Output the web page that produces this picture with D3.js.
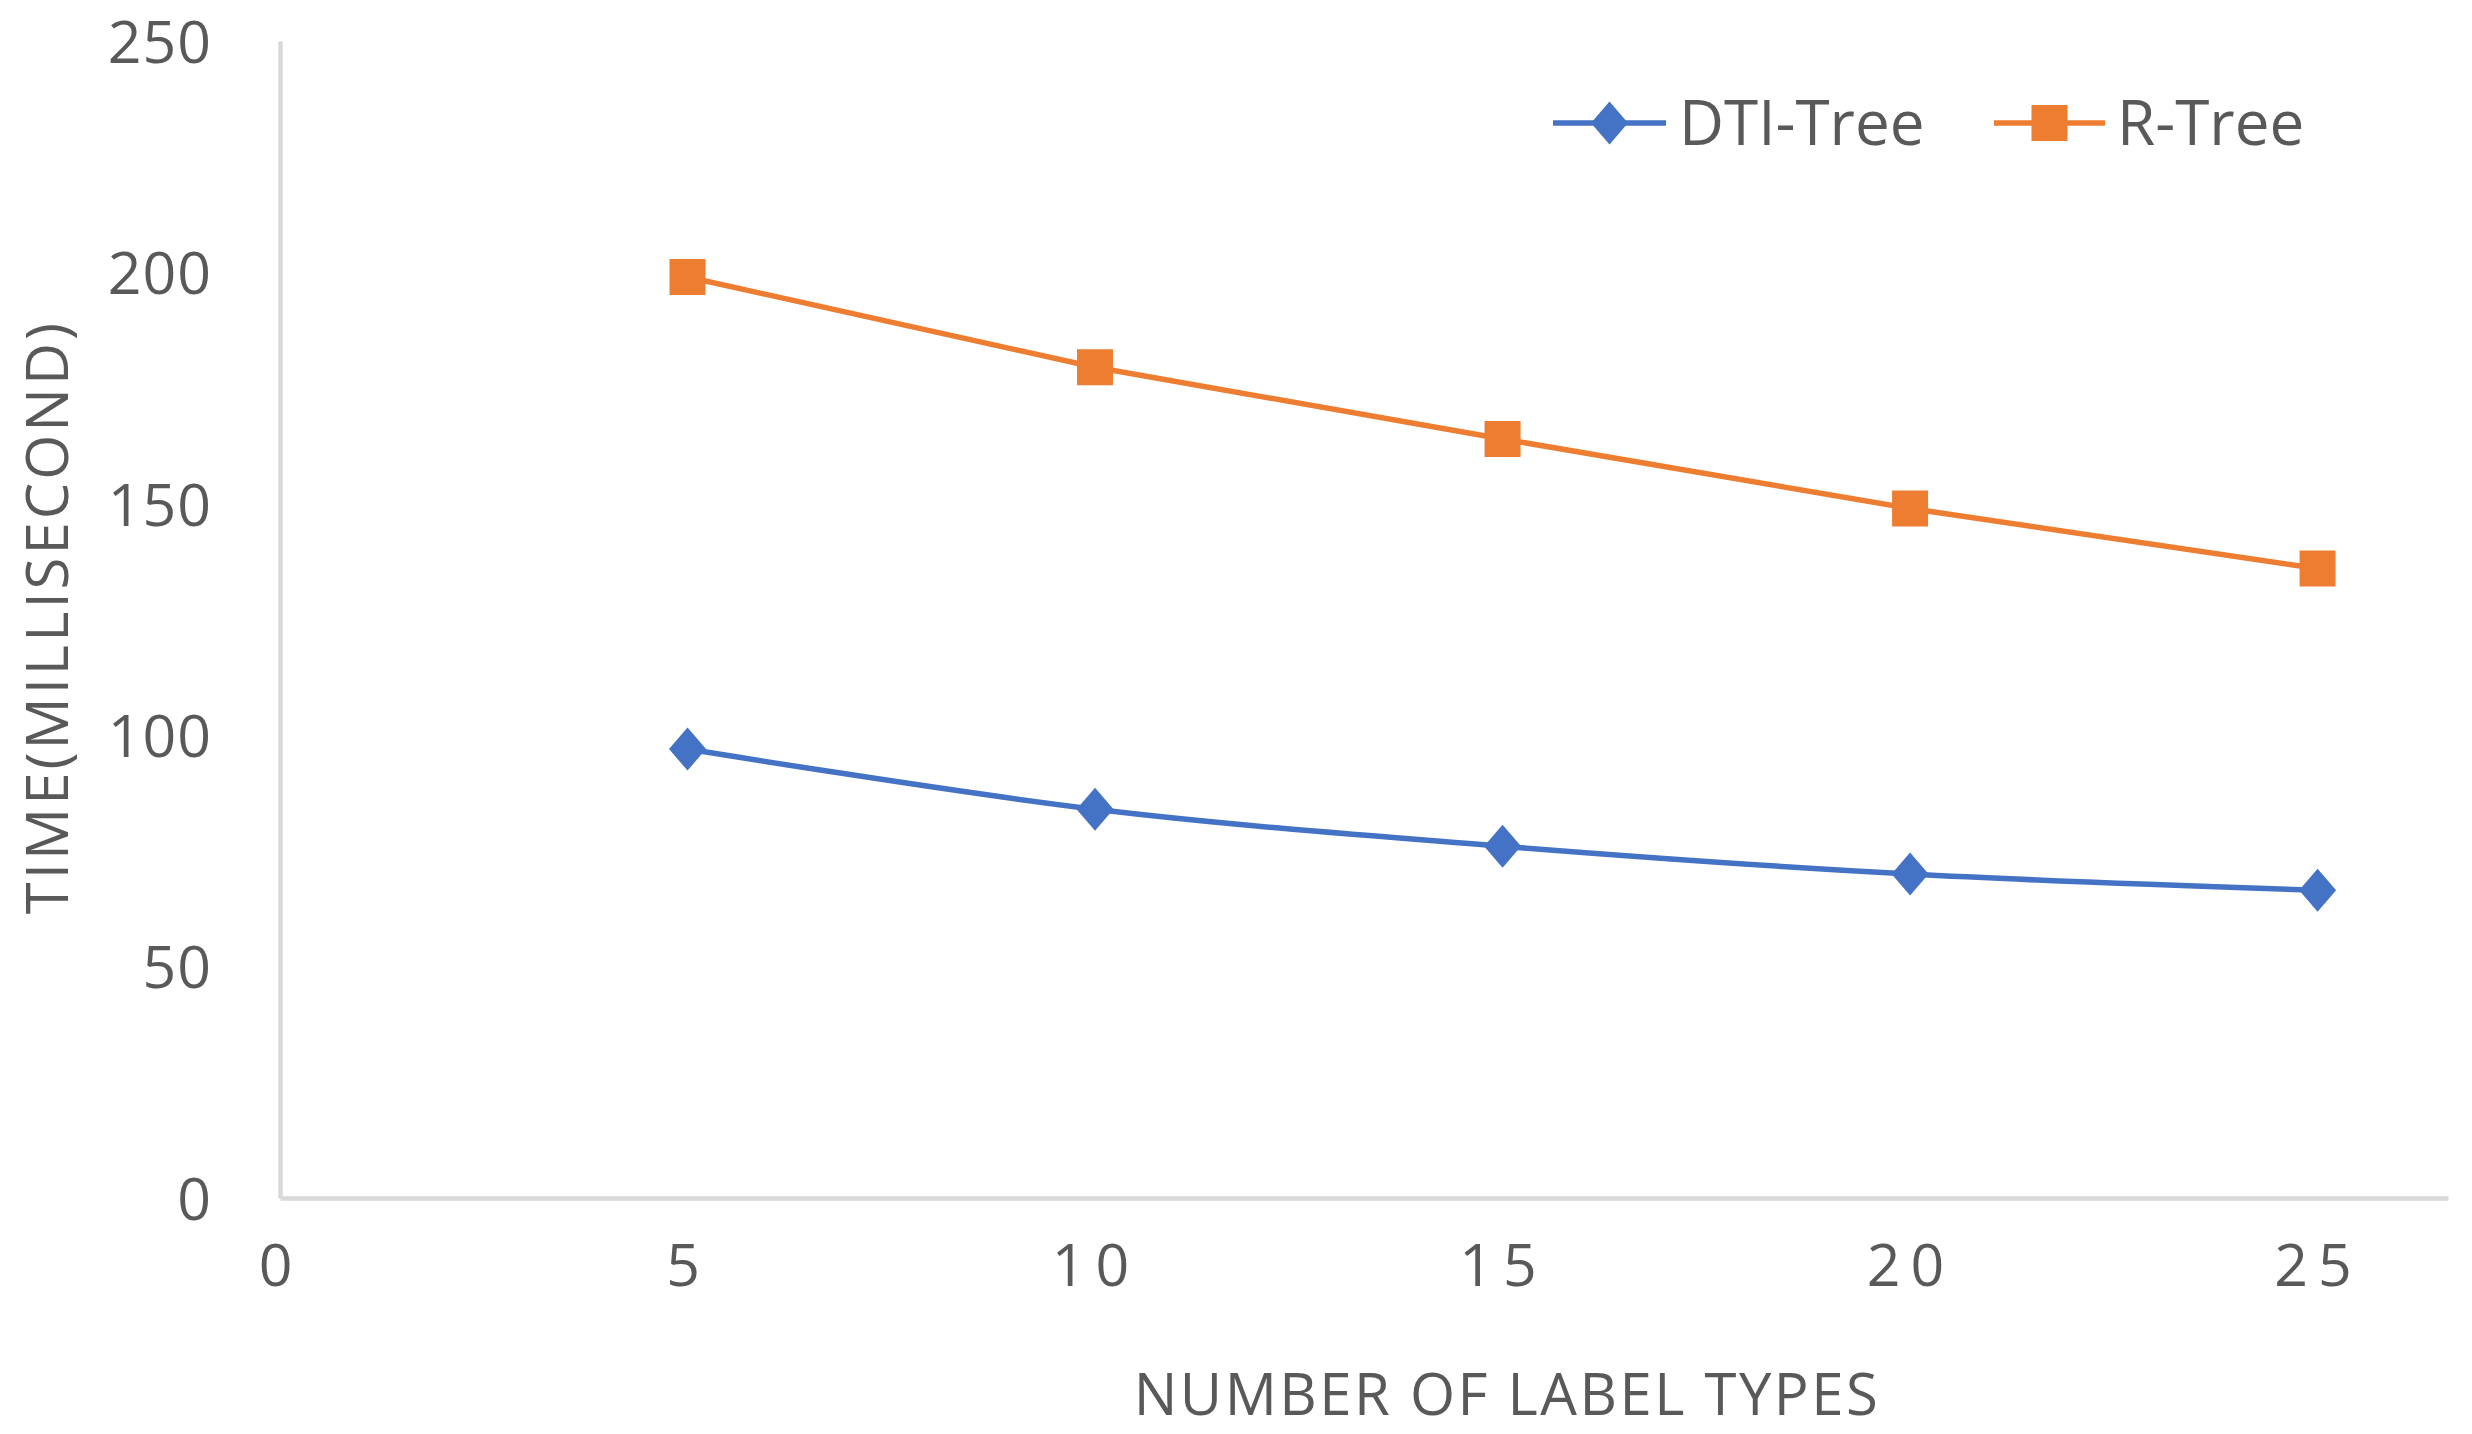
<!DOCTYPE html>
<html>
<head>
<meta charset="utf-8">
<script src="https://cdn.jsdelivr.net/npm/d3@7"></script>
<style>
  html, body { margin: 0; padding: 0; background: #ffffff; }
  svg { display: block; font-family: "Open Sans", "Noto Sans", sans-serif; }
</style>
</head>
<body>
<svg id="chart" width="2472" height="1434"></svg>
<script>
// ---- data ----
const labelTypes = [5, 10, 15, 20, 25];
const dtiTree = [97, 84, 76, 70, 66.5];
const rTree = [199, 179.5, 164, 149, 136];
const xTicks = [0, 5, 10, 15, 20, 25];
const yTicks = [0, 50, 100, 150, 200, 250];
const seriesNames = ["DTI-Tree", "R-Tree"];
const xTitle = "NUMBER OF LABEL TYPES";
const yTitle = "TIME(MILLISECOND)";

// ---- layout ----
(function () {
const svg = d3.select("#chart");
const W = 2472, H = 1434;
const mLeft = 280, mRight = 2448, mTop = 41, mBottom = 1198;
const textColor = "#595959";
const axisColor = "#d9d9d9";
const blue = "#4472C4", orange = "#ED7D31";

svg.append("rect").attr("width", W).attr("height", H).attr("fill", "#fff");

const x = d3.scaleLinear().domain([0, 26.6]).range([mLeft, mRight]);
const y = d3.scaleLinear().domain([0, 250]).range([mBottom, mTop]);

// axes
const xAxis = svg.append("g").attr("transform", `translate(0,${mBottom})`)
  .call(d3.axisBottom(x).tickValues(xTicks).tickSize(0).tickPadding(0).tickFormat(d3.format("d")));
xAxis.select(".domain").attr("stroke", axisColor).attr("stroke-width", 4.5);
xAxis.selectAll(".tick text")
  .attr("y", 88).attr("dy", 0)
  .attr("fill", textColor).attr("font-size", 59).attr("letter-spacing", "10px")
  .attr("font-family", "'Open Sans', sans-serif");

const yAxis = svg.append("g").attr("transform", `translate(${mLeft},0)`)
  .call(d3.axisLeft(y).tickValues(yTicks).tickSize(0).tickPadding(0));
yAxis.select(".domain").attr("stroke", axisColor).attr("stroke-width", 4.5);
yAxis.selectAll(".tick text")
  .attr("x", -68).attr("dy", "0.36em")
  .attr("fill", textColor).attr("font-size", 59).attr("letter-spacing", "1px")
  .attr("font-family", "'Open Sans', sans-serif");

// titles
svg.append("text").attr("x", 1507).attr("y", 1394).attr("dy", "0.36em")
  .attr("text-anchor", "middle").attr("fill", textColor).attr("font-size", 58)
  .attr("letter-spacing", "2.5px")
  .text(xTitle);
svg.append("text").attr("transform", `translate(47,617) rotate(-90)`).attr("dy", "0.36em")
  .attr("text-anchor", "middle").attr("fill", textColor).attr("font-size", 58)
  .attr("letter-spacing", "3px")
  .text(yTitle);

// marker types
const diamondType = {
  draw(ctx, size) {
    const w = 18.5, h = 21.5;
    ctx.moveTo(0, -h); ctx.lineTo(w, 0); ctx.lineTo(0, h); ctx.lineTo(-w, 0); ctx.closePath();
  }
};
const squareType = {
  draw(ctx, size) {
    const s = 18;
    ctx.moveTo(-s, -s); ctx.lineTo(s, -s); ctx.lineTo(s, s); ctx.lineTo(-s, s); ctx.closePath();
  }
};

const series = [
  { name: seriesNames[0], values: dtiTree, color: blue, type: diamondType, curve: d3.curveCatmullRom.alpha(0.5) },
  { name: seriesNames[1], values: rTree, color: orange, type: squareType, curve: d3.curveLinear }
];

series.forEach(s => {
  const pts = labelTypes.map((v, i) => [v, s.values[i]]);
  const line = d3.line().x(d => x(d[0])).y(d => y(d[1])).curve(s.curve);
  svg.append("path").datum(pts).attr("d", line)
    .attr("fill", "none").attr("stroke", s.color).attr("stroke-width", 5.5)
    .attr("stroke-linejoin", "round").attr("stroke-linecap", "round");
  svg.append("g").selectAll("path").data(pts).join("path")
    .attr("transform", d => `translate(${x(d[0])},${y(d[1])})`)
    .attr("d", d3.symbol().type(s.type)())
    .attr("fill", s.color);
});

// legend
const legendItems = [
  { x0: 1553, x1: 1666, tx: 1679 },
  { x0: 1994, x1: 2105, tx: 2117 }
];
const ly = 123;
series.forEach((s, i) => {
  const L = legendItems[i];
  const g = svg.append("g");
  g.append("line").attr("x1", L.x0).attr("x2", L.x1).attr("y1", ly).attr("y2", ly)
    .attr("stroke", s.color).attr("stroke-width", 5.5);
  g.append("path").attr("transform", `translate(${(L.x0 + L.x1) / 2},${ly})`)
    .attr("d", d3.symbol().type(s.type)()).attr("fill", s.color);
  g.append("text").attr("x", L.tx).attr("y", ly).attr("dy", "0.36em")
    .attr("fill", textColor).attr("font-size", 62).text(s.name);
});
})();
</script>
</body>
</html>
